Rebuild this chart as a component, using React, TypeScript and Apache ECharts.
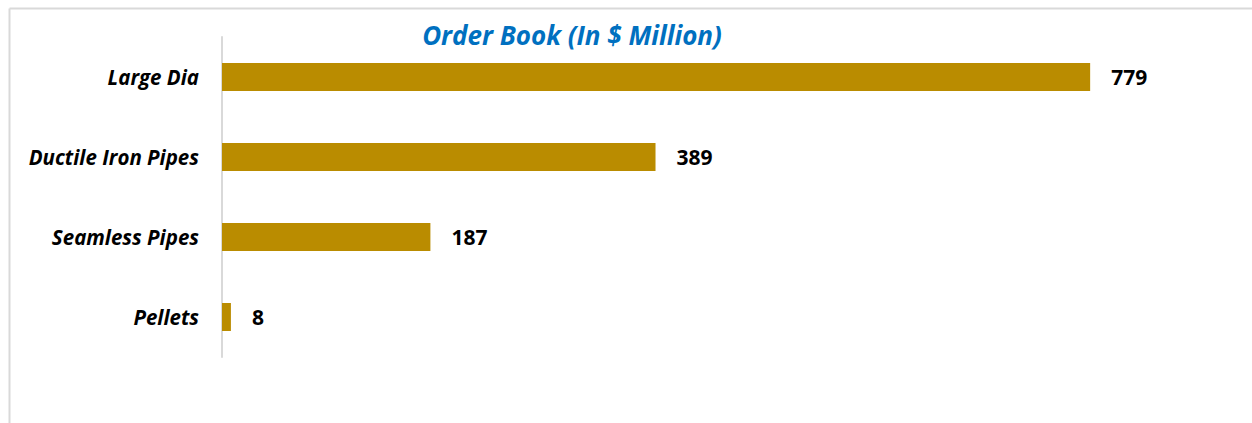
import React, { useEffect, useRef } from "react";
import * as echarts from "echarts";

const categories = ["Pellets", "Seamless Pipes", "Ductile Iron Pipes", "Large Dia"];
const values = [8, 187, 389, 779];
const titleText = "Order Book (In $ Million)";

export default function App() {
  const ref = useRef<HTMLDivElement>(null);
  useEffect(() => {
    if (!ref.current) return;
    const chart = echarts.init(ref.current, null, { renderer: "svg" });
    chart.setOption({
      animation: false,
      backgroundColor: "#ffffff",
      title: {
        text: titleText,
        left: 567,
        top: 17,
        textAlign: "center",
        textStyle: {
          color: "#0070C0",
          fontStyle: "italic",
          fontWeight: "bold",
          fontSize: 26,
          fontFamily: "Open Sans",
        },
      },
      graphic: [
        { type: "line", shape: { x1: 9.5, y1: 8.5, x2: 1252, y2: 8.5 }, style: { stroke: "#d9d9d9", lineWidth: 2 } },
        { type: "line", shape: { x1: 9.5, y1: 8.5, x2: 9.5, y2: 423 }, style: { stroke: "#d9d9d9", lineWidth: 2 } },
      ],
      grid: { left: 222, top: 37, height: 320, width: 1003, containLabel: false },
      xAxis: {
        type: "value",
        min: 0,
        max: 900,
        show: false,
        splitLine: { show: false },
      },
      yAxis: {
        type: "category",
        data: categories,
        axisLine: { show: true, lineStyle: { color: "#d9d9d9", width: 2 } },
        axisTick: { show: false },
        axisLabel: {
          margin: 23,
          color: "#000000",
          fontStyle: "italic",
          fontWeight: "bold",
          fontSize: 20.5,
          fontFamily: "Open Sans",
        },
      },
      series: [
        {
          type: "bar",
          data: values,
          barWidth: 28,
          itemStyle: { color: "#BA8C00" },
          label: {
            show: true,
            position: "right",
            distance: 21,
            color: "#000000",
            fontWeight: "bold",
            fontSize: 21,
            fontFamily: "Open Sans",
          },
        },
      ],
    });
    return () => chart.dispose();
  }, []);
  return (
    <div
      ref={ref}
      style={{ position: "fixed", left: 0, top: 0, width: 1252, height: 423 }}
    />
  );
}
